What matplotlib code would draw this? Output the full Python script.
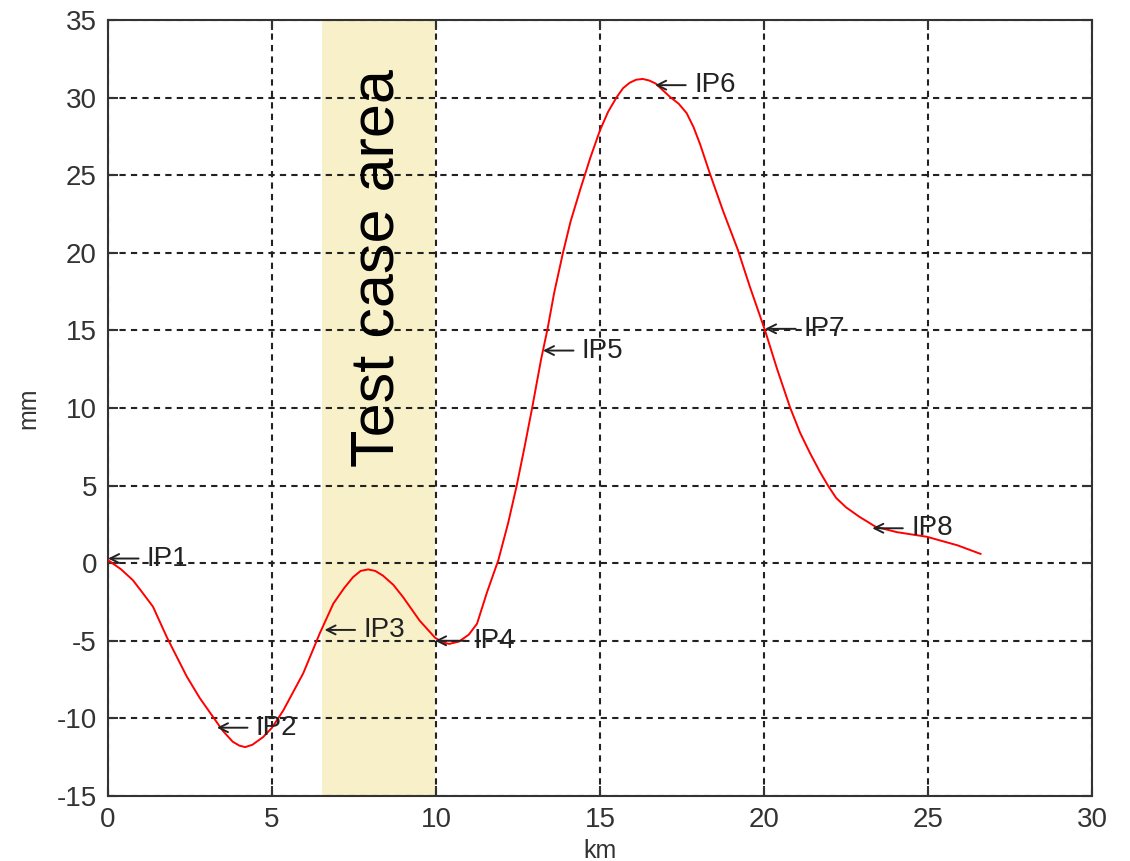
import matplotlib
matplotlib.use("Agg")
import matplotlib.pyplot as plt

plt.rcParams['font.family'] = ['Liberation Sans', 'DejaVu Sans']
plt.rcParams['axes.unicode_minus'] = False

# distance (km) and displacement (mm)
km = [0.0, 0.4, 0.76, 1.05, 1.37, 1.8, 2.4, 2.8, 3.2, 3.5, 3.8, 4.0, 4.18, 4.4,
      4.73, 5.0, 5.34, 5.95, 6.46, 6.87, 7.2, 7.47, 7.7, 7.93, 8.15, 8.38, 8.7,
      9.0, 9.5, 9.97, 10.2, 10.4, 10.7, 11.0, 11.25, 11.55, 11.9, 12.2,
      12.46, 12.7, 12.93, 13.2, 13.4, 13.6, 13.87, 14.1, 14.4, 14.7, 15.0, 15.25,
      15.5, 15.7, 15.9, 16.1, 16.3, 16.5, 16.7, 16.9, 17.13, 17.4, 17.64, 17.85,
      18.05, 18.35, 18.75, 19.2, 19.57, 20.03, 20.4, 20.8, 21.1, 21.4, 21.7, 21.95,
      22.2, 22.5, 22.9, 23.4, 24.05, 24.97, 25.9, 26.6]
mm = [0.2, -0.4, -1.1, -1.9, -2.8, -4.8, -7.3, -8.7, -9.9, -10.8, -11.5, -11.75,
      -11.85, -11.7, -11.2, -10.6, -9.5, -7.1, -4.5, -2.6, -1.6, -0.9, -0.5,
      -0.4, -0.5, -0.8, -1.4, -2.2, -3.7, -4.8, -5.1, -5.2, -5.05, -4.6, -3.9,
      -1.9, 0.2, 2.6,
      5.0, 7.5, 10.0, 13.1, 15.1, 17.4, 20.0, 22.0, 24.1, 26.1, 27.9, 29.1,
      30.0, 30.6, 30.95, 31.15, 31.2, 31.1, 30.9, 30.5, 30.05, 29.6, 29.0, 28.1,
      27.0, 25.1, 22.7, 20.2, 17.8, 15.0, 12.5, 10.0, 8.4, 7.1, 5.9, 5.0,
      4.2, 3.6, 3.0, 2.35, 2.0, 1.7, 1.15, 0.6]

# inflection point labels and the curve positions they point to
ip_labels = ['IP1', 'IP2', 'IP3', 'IP4', 'IP5', 'IP6', 'IP7', 'IP8']
ip_km = [0.0, 3.32, 6.6, 9.97, 13.26, 16.68, 20.03, 23.3]
ip_mm = [0.3, -10.6, -4.3, -5.0, 13.7, 30.8, 15.1, 2.25]

# highlighted test case area
area_start, area_end = 6.52, 9.97
area_label = 'Test case area'

x_ticks = [0, 5, 10, 15, 20, 25, 30]
y_ticks = [-15, -10, -5, 0, 5, 10, 15, 20, 25, 30, 35]

fig = plt.figure(figsize=(11.3, 8.61), dpi=100)
ax = fig.add_axes([0.0956, 0.0755, 0.8708, 0.9013])

ax.axvspan(area_start, area_end, color='#f8f0c8', zorder=1, lw=0)
ax.plot(km, mm, color='red', lw=1.4, zorder=3)

for lab, xx, yy in zip(ip_labels, ip_km, ip_mm):
    ax.annotate('', xy=(xx, yy), xytext=(22, 0), textcoords='offset points',
                arrowprops=dict(arrowstyle='->', lw=1.4, color='#222222',
                                shrinkA=0, shrinkB=0, mutation_scale=16),
                zorder=4)
    ax.annotate(lab, xy=(xx, yy), xytext=(28, 0), textcoords='offset points',
                ha='left', va='center', fontsize=20, color='#222222', zorder=4)

ax.text((area_start + area_end) / 2, 19.0, area_label, rotation=90,
        ha='center', va='center', fontsize=44, color='black', zorder=4)

ax.set_xlim(0, 30)
ax.set_ylim(-15, 35)
ax.set_xticks(x_ticks)
ax.set_yticks(y_ticks)
ax.grid(True, color='#222222', linestyle=(0, (3, 2.5)), lw=1.5)
ax.tick_params(direction='in', length=7, width=1.5, labelsize=20,
               colors='#333333', top=True, right=True, pad=8)
for s in ax.spines.values():
    s.set_color('#333333')
    s.set_linewidth(1.5)

ax.set_ylabel('mm', fontsize=18, color='#333333', labelpad=12)
ax.set_xlabel('km', fontsize=18, color='#333333', labelpad=4)

fig.savefig('out.png', dpi=100)
